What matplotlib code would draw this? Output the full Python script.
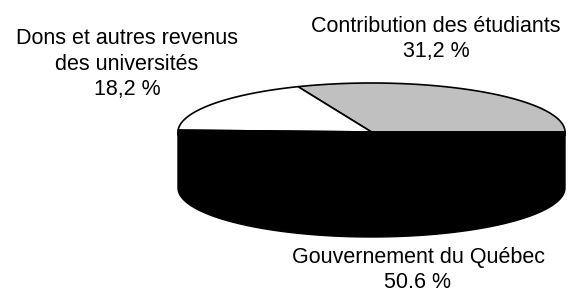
import numpy as np
import matplotlib
matplotlib.use("Agg")
import matplotlib.pyplot as plt
from matplotlib.patches import Polygon

labels = ["Contribution des étudiants", "Dons et autres revenus\ndes universités", "Gouvernement du Québec"]
values = [31.2, 18.2, 50.6]
value_texts = ["31,2 %", "18,2 %", "50.6 %"]
colors = ["#c0c0c0", "#ffffff", "#000000"]

plt.rcParams['font.family'] = ['Liberation Sans', 'DejaVu Sans']

fig = plt.figure(figsize=(5.74, 2.93), dpi=100)
ax = fig.add_axes([0, 0, 1, 1])
ax.set_xlim(0, 574)
ax.set_ylim(293, 0)
ax.axis('off')

cx, cy, a, b, depth = 371.5, 132.0, 193.5, 49.0, 56.0

def pt(t, dy=0.0):
    return cx + a * np.cos(t), cy - b * np.sin(t) + dy

# side (front half)
t = np.linspace(np.pi, 2 * np.pi, 200)
xs, ys = pt(t)
xb, yb = pt(t[::-1], depth)
side = Polygon(np.column_stack([np.r_[xs, xb], np.r_[ys, yb]]), closed=True,
               facecolor="#000000", edgecolor="#000000", lw=1)
ax.add_patch(side)

# top wedges
total = sum(values)
start = 0.0
for v, c in zip(values, colors):
    ang = v / total * 2 * np.pi
    tt = np.linspace(start, start + ang, 200)
    x, y = pt(tt)
    poly = Polygon(np.column_stack([np.r_[cx, x], np.r_[cy, y]]), closed=True,
                   facecolor=c, edgecolor="#000000", lw=1.2, joinstyle='round')
    ax.add_patch(poly)
    start += ang

fs = 15.5
ax.text(436, 39, labels[0] + "\n" + value_texts[0], ha='center', va='center',
        fontsize=fs, linespacing=1.28)
ax.text(127, 64, labels[1] + "\n" + value_texts[1], ha='center', va='center',
        fontsize=fs, linespacing=1.28)
ax.text(418, 270, labels[2] + "\n" + value_texts[2], ha='center', va='center',
        fontsize=fs, linespacing=1.2)

fig.savefig("out.png", dpi=100)
